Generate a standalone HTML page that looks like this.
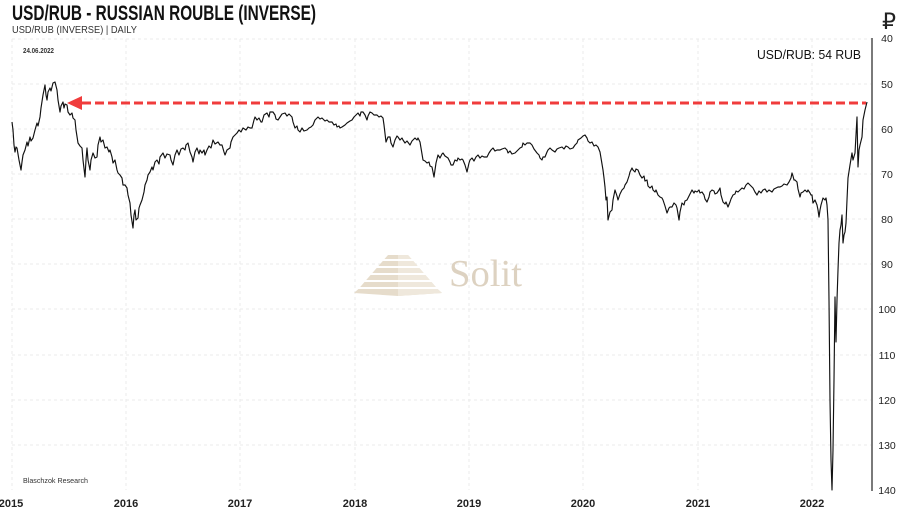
<!DOCTYPE html>
<html><head><meta charset="utf-8"><style>
html,body{margin:0;padding:0;background:#fff;}
svg{display:block;}
text{font-family:"Liberation Sans","DejaVu Sans",sans-serif;}
</style></head><body>
<svg width="900" height="510" viewBox="0 0 900 510" xmlns="http://www.w3.org/2000/svg">
<rect width="900" height="510" fill="#fff"/>
<!-- grid -->
<g stroke="#ebebeb" stroke-width="1" stroke-dasharray="3,3">
<line x1="12" y1="39" x2="871" y2="39"/>
<line x1="12" y1="84" x2="871" y2="84"/>
<line x1="12" y1="129" x2="871" y2="129"/>
<line x1="12" y1="174" x2="871" y2="174"/>
<line x1="12" y1="219" x2="871" y2="219"/>
<line x1="12" y1="264" x2="871" y2="264"/>
<line x1="12" y1="309" x2="871" y2="309"/>
<line x1="12" y1="355" x2="871" y2="355"/>
<line x1="12" y1="400" x2="871" y2="400"/>
<line x1="12" y1="445" x2="871" y2="445"/>
<line x1="12" y1="39" x2="12" y2="490"/>
<line x1="126" y1="39" x2="126" y2="490"/>
<line x1="240" y1="39" x2="240" y2="490"/>
<line x1="355" y1="39" x2="355" y2="490"/>
<line x1="469" y1="39" x2="469" y2="490"/>
<line x1="583" y1="39" x2="583" y2="490"/>
<line x1="698" y1="39" x2="698" y2="490"/>
<line x1="812" y1="39" x2="812" y2="490"/>
</g>
<!-- axis -->
<line x1="872" y1="38" x2="872" y2="491" stroke="#222" stroke-width="1.2"/>
<!-- watermark -->
<g>
<polygon points="388,255 408,255 411.5,259 384.5,259" fill="#e6dccb"/>
<polygon points="398,255 408,255 411.5,259 398,259" fill="#efe8dc"/>
<polygon points="382.8,261 413.2,261 417.6,266 378.4,266" fill="#e6dccb"/>
<polygon points="398,261 413.2,261 417.6,266 398,266" fill="#efe8dc"/>
<polygon points="376.7,268 419.3,268 423.7,273 372.3,273" fill="#e6dccb"/>
<polygon points="398,268 419.3,268 423.7,273 398,273" fill="#efe8dc"/>
<polygon points="370.6,275 425.4,275 429.8,280 366.2,280" fill="#e6dccb"/>
<polygon points="398,275 425.4,275 429.8,280 398,280" fill="#efe8dc"/>
<polygon points="364.5,282 431.5,282 435.8,287 360.2,287" fill="#e6dccb"/>
<polygon points="398,282 431.5,282 435.8,287 398,287" fill="#efe8dc"/>
<polygon points="358.4,289 437.6,289 442,293 398,296 354,293" fill="#e6dccb"/>
<polygon points="398,289 437.6,289 442,293 398,296" fill="#efe8dc"/>
<text x="449" y="286" font-size="38" fill="#ddd2c1" textLength="73" lengthAdjust="spacingAndGlyphs" style="font-family:'Liberation Serif',serif">Solit</text>
</g>
<!-- series -->
<polyline fill="none" stroke="#111" stroke-width="1.15" stroke-linejoin="round" points="12,122 13,130 14,145 15,152 16,147 17,148 19,160 21,170 22,162 23,155 25,150 27,142 28,146 30,137 31,141 33,138 35,130 37,123 38,126 40,117 41,108 43,95 44,90 45,85 46,95 47,100 48,92 50,88 51,91 53,83 55,82 56,86 57,90 58,100 60,112 61,106 63,102 64,108 65,104 67,105 68,112 70,115 72,113 73,118 75,120 76,130 78,143 80,146 82,148 83,160 85,177 86,160 87,148 88,160 90,170 91,160 93,153 95,158 97,157 98,145 100,137 101,142 103,140 105,148 107,147 109,152 110,150 112,157 113,163 115,160 117,170 118,173 120,175 122,178 123,185 125,185 127,188 128,195 130,203 131,215 133,228 134,215 135,210 136,220 138,218 139,208 140,205 142,200 144,192 145,185 147,180 148,175 150,172 152,167 153,170 155,162 157,160 159,164 160,157 163,153 165,158 167,154 170,155 171,160 173,165 175,155 177,150 179,155 181,149 183,148 185,150 186,145 188,143 190,152 192,157 193,162 195,152 197,148 199,154 200,150 202,153 204,150 205,155 207,150 209,146 211,148 213,140 215,144 218,142 220,145 222,145 224,152 225,155 227,150 230,148 231,142 233,137 235,135 237,133 239,130 241,132 243,128 246,130 248,127 250,128 252,128 254,120 255,117 257,120 259,118 261,122 262,122 264,115 267,113 269,117 270,112 273,112 275,115 276,119 278,120 280,117 282,114 285,113 287,116 289,114 292,117 293,122 295,128 297,126 298,130 300,132 302,128 304,131 307,130 309,128 311,127 313,125 315,120 318,117 320,119 322,118 325,121 327,120 329,122 332,122 334,125 336,124 337,127 339,126 340,128 342,127 345,125 347,123 350,121 352,120 354,117 356,115 358,113 360,116 361,112 363,112 365,115 367,120 368,116 370,112 372,113 374,115 377,115 379,117 381,116 383,118 384,125 386,142 388,137 390,137 391,143 393,147 395,140 397,136 398,137 400,140 402,138 403,140 405,143 407,141 410,145 412,141 415,138 417,140 418,138 420,142 421,148 423,160 425,161 427,163 429,162 430,166 432,167 433,172 434,177 436,163 438,155 440,158 442,154 443,153 445,156 448,158 450,162 451,165 453,165 455,160 457,161 458,158 460,160 462,159 463,160 465,165 467,172 469,163 470,160 472,158 474,161 476,157 478,155 480,158 482,156 484,157 487,157 489,153 491,150 493,148 495,151 497,150 500,150 502,149 505,148 507,150 508,153 510,151 512,154 515,153 517,151 520,148 522,147 523,143 525,145 527,143 530,143 532,145 534,149 537,153 539,155 540,158 542,160 543,157 545,157 547,152 548,150 550,148 552,150 555,152 557,149 559,148 562,147 564,149 566,146 568,147 570,149 573,148 575,145 577,143 578,140 581,138 583,136 585,135 587,138 588,141 590,143 592,142 594,146 596,145 598,147 600,152 601,158 603,170 604,178 605,187 606,200 607,197 608,220 610,212 612,210 613,200 615,190 617,196 618,200 620,194 622,190 624,188 625,185 627,182 629,176 630,172 632,168 633,170 635,172 636,169 638,170 640,175 642,178 644,176 645,181 647,180 648,186 650,188 652,186 653,190 655,192 656,190 658,195 660,197 662,198 663,200 665,206 667,213 669,208 670,207 672,207 674,203 676,205 677,208 678,214 679,220 680,212 682,203 684,205 685,201 687,200 689,196 690,194 692,190 694,193 695,191 697,192 699,190 700,193 702,192 704,195 705,199 707,202 709,197 710,192 712,190 714,191 715,194 717,193 719,190 720,188 721,195 723,202 725,204 726,202 728,207 730,202 731,199 733,195 735,194 736,191 738,192 740,190 742,188 744,189 746,185 748,183 750,185 751,186 753,188 755,192 757,195 759,191 761,193 763,190 765,189 767,192 769,190 772,192 774,189 776,188 778,187 780,187 782,186 784,184 787,185 789,182 791,178 792,173 793,176 794,180 795,180 797,182 798,189 800,197 801,193 803,192 805,190 807,192 808,190 810,193 811,195 812,195 813,203 815,200 817,205 818,210 819,217 820,210 821,205 823,198 825,200 826,198 827,205 828,220 829,300 830,400 831,460 832,490 833,450 834,380 835,297 836,342 837,300 838,270 839,243 840,230 841,225 842,215 843,243 844,235 845,232 846,223 847,200 848,178 850,165 852,153 853,160 855,153 856,135 857,117 858,167 859,150 860,145 862,137 863,120 864,115 865,110 866,106 867,102"/>
<!-- red arrow -->
<line x1="82" y1="103" x2="866" y2="103" stroke="#f03c3c" stroke-width="3" stroke-dasharray="9,4"/>
<polygon points="67,103 82,96 82,110" fill="#f03c3c"/>
<!-- titles -->
<text x="12" y="20" font-size="21" font-weight="bold" fill="#111" textLength="304" lengthAdjust="spacingAndGlyphs">USD/RUB - RUSSIAN ROUBLE (INVERSE)</text>
<text x="12" y="33" font-size="10.5" fill="#333" textLength="125" lengthAdjust="spacingAndGlyphs">USD/RUB (INVERSE) | DAILY</text>
<text x="23" y="53" font-size="7.5" font-weight="bold" fill="#333" textLength="31" lengthAdjust="spacingAndGlyphs">24.06.2022</text>
<text x="757" y="59" font-size="12.5" fill="#111" textLength="104" lengthAdjust="spacingAndGlyphs">USD/RUB: 54 RUB</text>
<text x="23" y="483" font-size="7.5" fill="#333" textLength="65" lengthAdjust="spacingAndGlyphs">Blaschzok Research</text>
<text x="889" y="29" font-size="22" fill="#222" text-anchor="middle" style="font-family:'DejaVu Sans',sans-serif">₽</text>
<!-- y labels -->
<g font-size="10.5" fill="#222" text-anchor="middle">
<text x="887" y="42">40</text>
<text x="887" y="88">50</text>
<text x="887" y="133">60</text>
<text x="887" y="178">70</text>
<text x="887" y="223">80</text>
<text x="887" y="268">90</text>
<text x="887" y="313">100</text>
<text x="887" y="359">110</text>
<text x="887" y="404">120</text>
<text x="887" y="449">130</text>
<text x="887" y="494">140</text>
</g>
<!-- x labels -->
<g font-size="11" font-weight="bold" fill="#222" text-anchor="middle">
<text x="11" y="507">2015</text>
<text x="126" y="507">2016</text>
<text x="240" y="507">2017</text>
<text x="355" y="507">2018</text>
<text x="469" y="507">2019</text>
<text x="583" y="507">2020</text>
<text x="698" y="507">2021</text>
<text x="812" y="507">2022</text>
</g>
</svg>
</body></html>
